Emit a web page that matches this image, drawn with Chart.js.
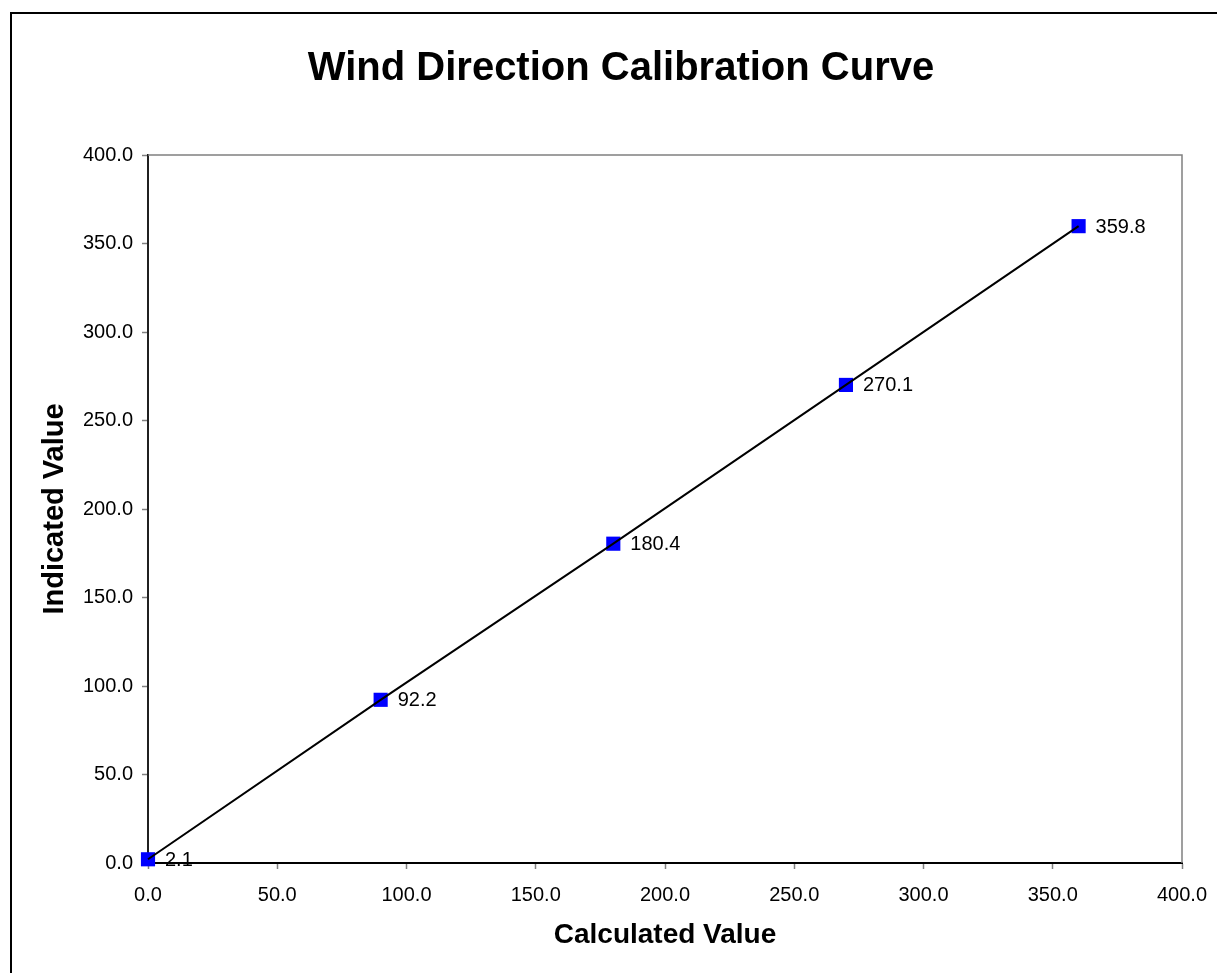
<!DOCTYPE html>
<html>
<head>
<meta charset="utf-8">
<title>Wind Direction Calibration Curve</title>
<script src="https://cdn.jsdelivr.net/npm/chart.js@4.4.1/dist/chart.umd.min.js"></script>
<style>
    html, body { margin: 0; padding: 0; background: #fff; overflow: hidden; }
    #frame {
        position: absolute; left: 10px; top: 12px;
        width: 1300px; height: 1100px;
        border-left: 2px solid #000; border-top: 2px solid #000;
    }
    #wrap { position: absolute; left: 0; top: 0; width: 1242px; height: 973px; }
</style>
</head>
<body>
<div id="frame"></div>
<div id="wrap"><canvas id="calib-chart"></canvas></div>
<script>
// Chart data
const calculated = [0.0, 90.0, 180.0, 270.0, 360.0];
const indicated = [2.1, 92.2, 180.4, 270.1, 359.8];
const axisTicks = [0, 50, 100, 150, 200, 250, 300, 350, 400];

const points = calculated.map((x, i) => ({ x: x, y: indicated[i] }));

const FONT = '"Liberation Sans", Arial, sans-serif';

// Gray plot area border on top/right + point labels
const plotFrame = {
    id: 'plotFrame',
    beforeDatasetsDraw(chart) {
        const { ctx, chartArea } = chart;
        ctx.save();
        ctx.strokeStyle = '#808080';
        ctx.lineWidth = 1.5;
        ctx.beginPath();
        ctx.moveTo(chartArea.left, chartArea.top);
        ctx.lineTo(chartArea.right, chartArea.top);
        ctx.lineTo(chartArea.right, chartArea.bottom);
        ctx.stroke();
        ctx.restore();
    },
    afterDatasetsDraw(chart) {
        const { ctx } = chart;
        const meta = chart.getDatasetMeta(0);
        ctx.save();
        ctx.font = '20px ' + FONT;
        ctx.fillStyle = '#000';
        ctx.textAlign = 'left';
        ctx.textBaseline = 'middle';
        meta.data.forEach((pt, i) => {
            ctx.fillText(indicated[i].toFixed(1), pt.x + 17, pt.y + 1);
        });
        ctx.restore();
    }
};

const tickFont = { family: FONT, size: 20 };
const titleFont = { family: FONT, size: 28, weight: 'bold' };

new Chart(document.getElementById('calib-chart'), {
    type: 'scatter',
    data: {
        datasets: [{
            label: 'Indicated',
            data: points,
            pointStyle: 'rect',
            pointRadius: 10,
            pointHoverRadius: 10,
            backgroundColor: '#0000ff',
            borderColor: '#0000ff',
            borderWidth: 0,
            showLine: false,
            clip: false,
            order: 2
        }, {
            label: 'Line',
            data: points,
            showLine: true,
            pointRadius: 0,
            borderColor: '#000',
            borderWidth: 2,
            clip: false,
            order: 1
        }]
    },
    options: {
        responsive: true,
        maintainAspectRatio: false,
        animation: false,
        layout: { padding: { left: 60, right: 60, top: 0, bottom: 0 } },
        plugins: {
            legend: { display: false },
            tooltip: { enabled: false },
            title: {
                display: true,
                text: 'Wind Direction Calibration Curve',
                color: '#000',
                font: { family: FONT, size: 40, weight: 'bold' },
                padding: { top: 45, bottom: 62 }
            }
        },
        scales: {
            x: {
                type: 'linear',
                min: 0,
                max: 400,
                afterBuildTicks: (s) => { s.ticks = axisTicks.map(v => ({ value: v })); },
                afterFit: (s) => { s.height = 110; },
                ticks: {
                    color: '#000',
                    font: tickFont,
                    padding: 14,
                    maxRotation: 0,
                    callback: (v) => Number(v).toFixed(1)
                },
                grid: { drawOnChartArea: false, drawTicks: true, tickLength: 6, tickColor: '#808080', tickWidth: 1.5 },
                border: { color: '#000', width: 2 },
                title: { display: true, text: 'Calculated Value', color: '#000', font: titleFont, padding: { top: 0, bottom: 21 } }
            },
            y: {
                type: 'linear',
                min: 0,
                max: 400,
                afterBuildTicks: (s) => { s.ticks = axisTicks.map(v => ({ value: v })); },
                afterFit: (s) => { s.width = 88; },
                ticks: {
                    color: '#000',
                    font: tickFont,
                    padding: 9,
                    callback: (v) => Number(v).toFixed(1)
                },
                grid: { drawOnChartArea: false, drawTicks: true, tickLength: 6, tickColor: '#808080', tickWidth: 1.5 },
                border: { color: '#202020', width: 2 },
                // title sits left of the narrow y scale box
                title: { display: true, text: 'Indicated Value', color: '#000', font: { family: FONT, size: 29, weight: 'bold' }, padding: { top: -22, bottom: 0 } }
            }
        }
    },
    plugins: [plotFrame]
});
</script>
</body>
</html>
